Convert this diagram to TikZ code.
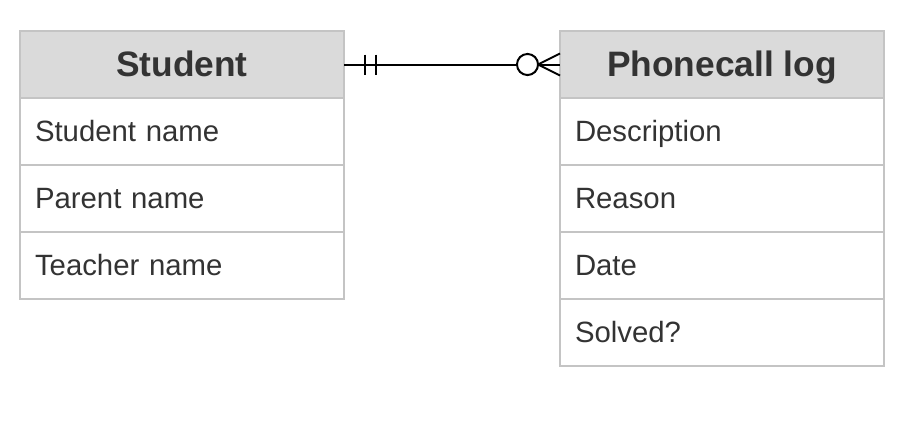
\documentclass[tikz,border=0pt]{standalone}
\usepackage{fontspec}
\setmainfont{Liberation Sans}
\usetikzlibrary{positioning}
\definecolor{headgray}{HTML}{DADADA}
\definecolor{edgegray}{HTML}{C4C4C4}
\definecolor{txtgray}{HTML}{333333}

\begin{document}
\begin{tikzpicture}[
        x=0.75pt, y=-0.75pt,
        node distance=0pt,
        entity/.style={rectangle, draw=edgegray, line width=1.5pt, outer sep=0pt, minimum width=243pt, minimum height=50.25pt, text=txtgray},
        head/.style={entity, fill=headgray, text height=21.25pt, text depth=3.25pt, font=\fontsize{26.5}{30}\selectfont\bfseries},
        attr/.style={entity, fill=white, text width=220.5pt, inner xsep=11.25pt, align=left, text height=17.5pt, text depth=3pt, font=\fontsize{22}{26}\selectfont},
        link/.style={line width=1.5pt, black}
    ]
        \useasboundingbox (0,0) rectangle (917,421);

        % Student table
        \node[head] (student) at (182,64.5) {Student};
        \node[attr, below=of student] (sname) {Student name};
        \node[attr, below=of sname] (pname) {Parent name};
        \node[attr, below=of pname] (tname) {Teacher name};

        % Phonecall log table
        \node[head] (call) at (722,64.5) {Phonecall log};
        \node[attr, below=of call] (descr) {Description};
        \node[attr, below=of descr] (reason) {Reason};
        \node[attr, below=of reason] (date) {Date};
        \node[attr, below=of date] (solved) {Solved?};

        % Relationship: exactly one -- zero or many
        \draw[link] (student.east) -- (call.west);
        \draw[link] (student.east) ++(21,-10) -- ++(0,20);
        \draw[link] (student.east) ++(32,-10) -- ++(0,20);
        \draw[link] (call.west) ++(0,-11) -- ++(-22,11) -- ++(22,11);
        \draw[link, fill=white] (call.west) ++(-32.5,0) circle[radius=7.9pt];

    \end{tikzpicture}
\end{document}
